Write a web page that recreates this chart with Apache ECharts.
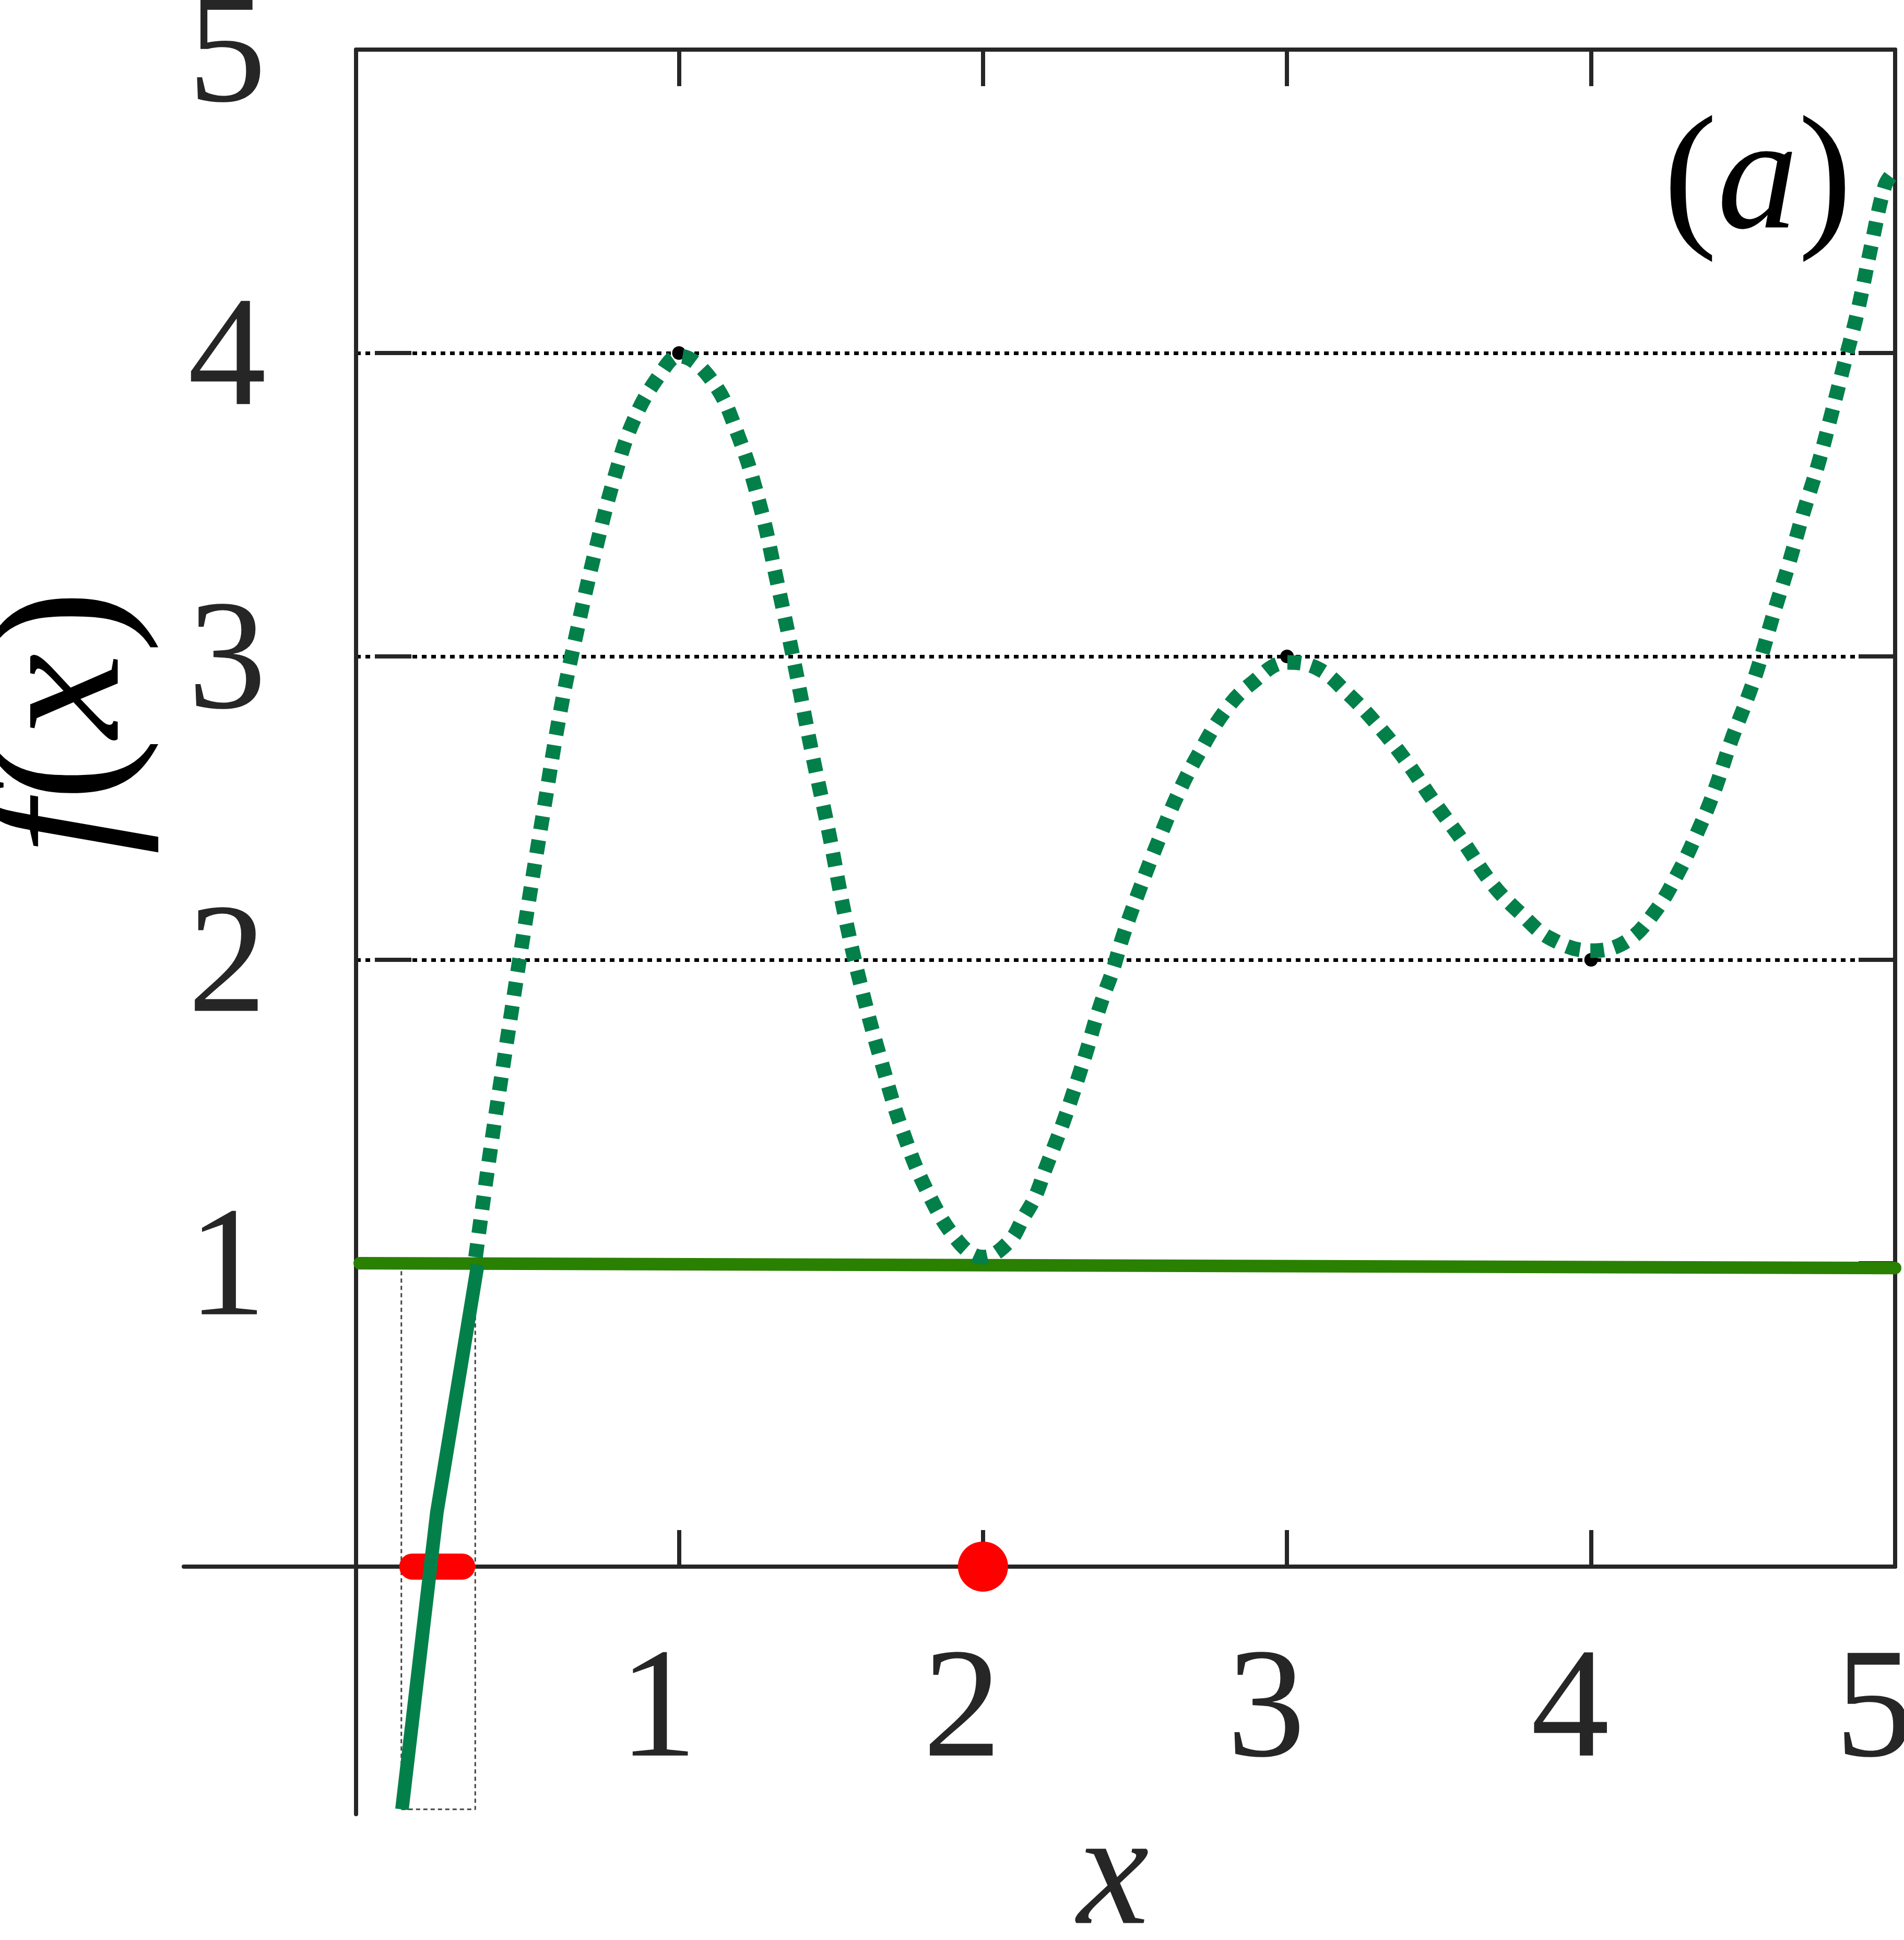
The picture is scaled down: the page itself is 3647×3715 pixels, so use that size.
<!DOCTYPE html>
<html>
<head>
<meta charset="utf-8">
<title>f(x)</title>
<script src="https://cdn.jsdelivr.net/npm/echarts@6/dist/echarts.min.js"></script>
<style>
  html, body { margin: 0; padding: 0; background: #fff; }
  #chart { width: 3647px; height: 3715px; }
</style>
</head>
<body>
<div id="chart"></div>
<script>
// dotted green curve f(x)
const curveX = [0.331, 0.381, 0.440, 0.496, 0.553, 0.610, 0.666, 0.723, 0.788, 0.852,
  0.938, 1.000, 1.108, 1.194, 1.266, 1.322, 1.379, 1.436, 1.493, 1.549,
  1.607, 1.664, 1.734, 1.820, 1.920, 2.000, 2.085, 2.133, 2.172, 2.205,
  2.236, 2.266, 2.293, 2.319, 2.344, 2.370, 2.396, 2.425, 2.461, 2.518,
  2.576, 2.643, 2.710, 2.796, 2.882, 3.000, 3.101, 3.197, 3.292, 3.388,
  3.484, 3.579, 3.675, 3.771, 3.867, 4.000, 4.115, 4.211, 4.288, 4.345,
  4.403, 4.460, 4.517, 4.551, 4.600, 4.649, 4.697, 4.746, 4.791, 4.834,
  4.875, 4.925, 4.966, 4.990]
const curveY = [1.02, 1.38, 1.77, 2.13, 2.48, 2.82, 3.09, 3.34, 3.59, 3.78,
  3.93, 3.99, 3.91, 3.73, 3.50, 3.25, 2.98, 2.69, 2.42, 2.13,
  1.88, 1.67, 1.44, 1.23, 1.07, 1.02, 1.07, 1.15, 1.22, 1.31,
  1.39, 1.47, 1.55, 1.63, 1.71, 1.80, 1.88, 1.96, 2.08, 2.24,
  2.39, 2.55, 2.68, 2.82, 2.91, 2.98, 2.96, 2.88, 2.78, 2.66,
  2.52, 2.39, 2.25, 2.15, 2.07, 2.03, 2.06, 2.16, 2.29, 2.41,
  2.55, 2.72, 2.87, 2.97, 3.14, 3.30, 3.47, 3.63, 3.80, 3.97,
  4.13, 4.37, 4.55, 4.59]

// solid green piece near the left edge
const solidX = [0.089, 0.204, 0.338]
const solidY = [-0.80, 0.18, 0.995]

// olive level line at f = 1
const levelX = [-0.05, 5.0]
const levelY = [1.0, 0.984]

// red interval on the x axis, red root marker
const intervalX = [0.123, 0.287]
const rootX = [2]
const rootY = [0]

// dotted box round the solid piece
const boxX = [0.087, 0.33, 0.33, 0.087, 0.087]
const boxY = [-0.80, -0.80, 1.0, 1.0, -0.80]

// small black points at the turning values
const turnX = [1, 3, 4]
const turnY = [4, 3, 2]

const xTickValues = [1, 2, 3, 4]
const xLabelValues = [1, 2, 3, 4, 5]

const zip = (xs, ys) => xs.map((x, i) => [x, ys[i]])

const ink = '#262626'
const serif = '"Liberation Serif", "Times New Roman", serif'
const axisLine = { show: true, onZero: false, lineStyle: { color: ink, width: 8 } }
const tick = { show: true, inside: true, length: 70, lineStyle: { color: ink, width: 8 } }

const chart = echarts.init(document.getElementById('chart'))

const option = {
  animation: false,
  backgroundColor: '#ffffff',
  title: {
    text: '({i|a})',
    left: 3186,
    top: 199,
    padding: 0,
    textStyle: {
      fontFamily: serif,
      fontSize: 310,
      fontWeight: 'normal',
      color: '#000',
      lineHeight: 310,
      rich: { i: { fontFamily: serif, fontStyle: 'italic', fontSize: 310, lineHeight: 310, color: '#000' } }
    }
  },
  grid: [
    // box above y = 0
    { left: 682, right: 17, top: 95, bottom: 715, containLabel: false, outerBoundsMode: 'none' },
    // plotting area
    { left: 682, right: 17, top: 95, bottom: 241, containLabel: false, outerBoundsMode: 'none' },
    // long x axis line
    { left: 352, right: 17, top: 95, bottom: 715, containLabel: false, outerBoundsMode: 'none' }
  ],
  xAxis: [
    {
      gridIndex: 0, type: 'value', min: -0.062, max: 5, position: 'bottom',
      axisLine: axisLine,
      axisTick: Object.assign({ customValues: xTickValues }, tick),
      axisLabel: {
        customValues: xLabelValues, margin: 133, padding: [0, 80, 0, 0],
        fontFamily: serif, fontSize: 300, color: ink
      },
      splitLine: { show: false },
      name: 'x', nameLocation: 'middle', nameGap: 446,
      nameTextStyle: { fontFamily: serif, fontStyle: 'italic', fontSize: 310, color: ink, padding: [0, 48, 0, 0] }
    },
    {
      gridIndex: 0, type: 'value', min: -0.062, max: 5, position: 'top',
      axisLine: axisLine,
      axisTick: Object.assign({ customValues: xTickValues }, tick),
      axisLabel: { show: false },
      splitLine: { show: false }
    },
    { gridIndex: 1, type: 'value', min: -0.062, max: 5, show: false },
    {
      gridIndex: 2, type: 'value', min: -0.63, max: 5, position: 'bottom',
      axisLine: axisLine,
      axisTick: { show: false },
      axisLabel: { show: false },
      splitLine: { show: false }
    }
  ],
  yAxis: [
    {
      gridIndex: 0, type: 'value', min: 0, max: 5, interval: 1, position: 'left',
      axisLine: { show: false },
      axisTick: tick,
      axisLabel: {
        showMinLabel: false, margin: 172,
        // nudge the digits a little below their tick, as in the figure
        verticalAlign: 'top', padding: [-131, 0, 0, 0],
        fontFamily: serif, fontSize: 300, color: ink
      },
      splitLine: { show: true, lineStyle: { color: '#000', width: 7, type: [9, 9] } },
      name: '{i|f}({i|x})', nameLocation: 'middle', nameRotate: 90, nameGap: 370,
      nameTextStyle: {
        fontFamily: serif, fontSize: 365, color: '#000', padding: [0, 0, 0, 329],
        rich: { i: { fontFamily: serif, fontStyle: 'italic', fontSize: 365, color: '#000' } }
      }
    },
    {
      gridIndex: 0, type: 'value', min: 0, max: 5, interval: 1, position: 'right',
      axisLine: axisLine,
      axisTick: tick,
      axisLabel: { show: false },
      splitLine: { show: false }
    },
    {
      gridIndex: 1, type: 'value', min: -0.816, max: 5, position: 'left',
      axisLine: axisLine,
      axisTick: { show: false },
      axisLabel: { show: false },
      splitLine: { show: false }
    },
    { gridIndex: 2, type: 'value', min: 0, max: 5, show: false }
  ],
  series: [
    {
      name: 'box', type: 'line', xAxisIndex: 2, yAxisIndex: 2,
      data: zip(boxX, boxY), showSymbol: false,
      lineStyle: { color: '#444', width: 3, type: [8, 6] }
    },
    {
      name: 'interval', type: 'line', xAxisIndex: 2, yAxisIndex: 2,
      data: intervalX.map(x => [x, 0]), showSymbol: false,
      lineStyle: { color: '#ff0000', width: 50, cap: 'round' }
    },
    {
      name: 'level', type: 'line', xAxisIndex: 2, yAxisIndex: 2,
      data: zip(levelX, levelY), showSymbol: false,
      lineStyle: { color: '#2a8000', width: 24, cap: 'round' }
    },
    {
      name: 'solid', type: 'line', xAxisIndex: 2, yAxisIndex: 2,
      data: zip(solidX, solidY), showSymbol: false,
      lineStyle: { color: '#03804a', width: 26 }
    },
    {
      name: 'turning', type: 'scatter', xAxisIndex: 2, yAxisIndex: 2,
      data: zip(turnX, turnY), symbolSize: 26,
      itemStyle: { color: '#000', opacity: 1 }
    },
    {
      name: 'curve', type: 'line', xAxisIndex: 2, yAxisIndex: 2,
      data: zip(curveX, curveY), showSymbol: false, smooth: 0.4,
      lineStyle: { color: '#03804a', width: 28, type: [26, 20] }
    },
    {
      name: 'root', type: 'scatter', xAxisIndex: 2, yAxisIndex: 2,
      data: zip(rootX, rootY), symbolSize: 96,
      itemStyle: { color: '#ff0000', opacity: 1 }
    }
  ]
}

chart.setOption(option)
</script>
</body>
</html>
